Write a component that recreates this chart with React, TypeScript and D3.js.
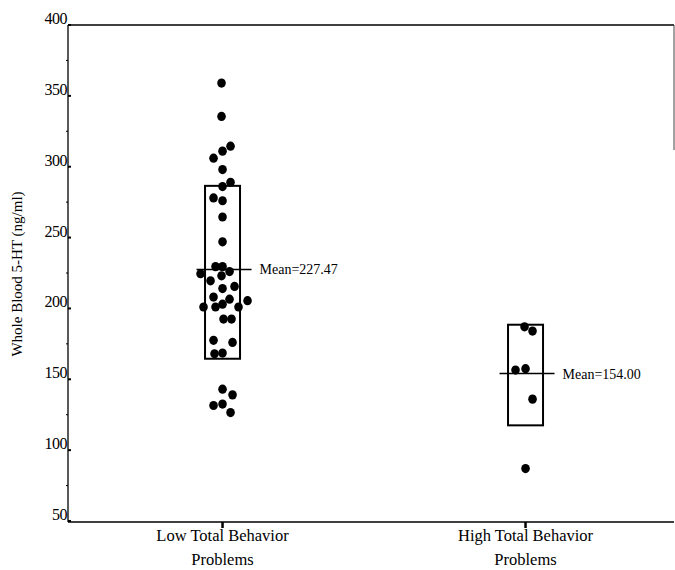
import React, { useRef, useEffect } from 'react';
import * as d3 from 'd3';

// categories (two-line tick labels)
const categories = ['Low', 'High'];
const categoryLines = [
  ['Low Total Behavior', 'Problems'],
  ['High Total Behavior', 'Problems'],
];

const yTicks = [50, 100, 150, 200, 250, 300, 350, 400];
const yMinorTicks = [75, 125, 175, 225, 275, 325, 375];

// whole blood 5-HT values, with the horizontal jitter of each dot
const lowValues = [
  359, 335.5, 314.5, 311, 306, 298, 289, 286, 278, 276, 264.5, 247,
  229.5, 229.5, 224.5, 219.5, 223, 226, 214, 215.5, 208, 201, 201, 203, 206.5, 201, 205.5, 192.5, 192.5,
  177.5, 176, 168, 168.5,
  143, 139, 131.5, 132.5, 126.5,
];
const lowJitter = [
  -1, -1, 8, 0, -9, 0, 8, 0, -9, 0, 0, 0,
  -7, 0, -22, -12, -1, 7, 0, 12, -9, -19, -7, 0, 7, 16, 25, 1, 9,
  -9, 10, -8, 0,
  0, 10, -9, 0, 8,
];

const highValues = [187, 184, 156.5, 157.5, 136, 87];
const highJitter = [-1, 7, -10, 0, 7, 0];

// box (low, high) and mean per group
const boxLow = [164.5, 117.5];
const boxHigh = [286.5, 188.5];
const means = [227.47, 154.0];

const App = () => {
  const svgRef = useRef(null);

  useEffect(() => {
    const svg = d3.select(svgRef.current);
    svg.selectAll('*').remove();

    const width = 675;
    const height = 570;
    const left = 68;
    const right = 674;
    const top = 25;
    const bottom = 521;
    const font = '"Liberation Serif", "Times New Roman", serif';

    svg.attr('width', width).attr('height', height);

    const y = d3.scaleLinear().domain([50, 400]).range([bottom, top]);
    const x = d3.scalePoint().domain(categories).range([left, right]).padding(0.5).align(0.51);

    const g = svg.append('g');

    // frame
    g.append('line').attr('x1', left).attr('x2', left).attr('y1', top).attr('y2', bottom + 1)
      .attr('stroke', '#000').attr('stroke-width', 1.3);
    g.append('line').attr('x1', left).attr('x2', right).attr('y1', top).attr('y2', top)
      .attr('stroke', '#000').attr('stroke-width', 1.3);
    g.append('line').attr('x1', left).attr('x2', right).attr('y1', bottom + 1).attr('y2', bottom + 1)
      .attr('stroke', '#000').attr('stroke-width', 1.3);
    g.append('line').attr('x1', right).attr('x2', right).attr('y1', top).attr('y2', 150)
      .attr('stroke', '#444').attr('stroke-width', 1);

    // y ticks
    g.selectAll('.ytick').data(yTicks).enter().append('line')
      .attr('x1', left).attr('x2', left + 3)
      .attr('y1', d => y(d)).attr('y2', d => y(d))
      .attr('stroke', '#000').attr('stroke-width', 2);
    g.selectAll('.yminor').data(yMinorTicks).enter().append('line')
      .attr('x1', left - 2).attr('x2', left)
      .attr('y1', d => y(d)).attr('y2', d => y(d))
      .attr('stroke', '#000').attr('stroke-width', 1);
    g.selectAll('.ylabel').data(yTicks).enter().append('text')
      .attr('x', left - 1)
      .attr('y', d => y(d) - 1)
      .attr('text-anchor', 'end')
      .style('font-family', font)
      .style('font-size', '16px')
      .style('letter-spacing', '-0.5px')
      .text(d => d);

    // y title
    g.append('text')
      .attr('transform', `translate(22,${(top + bottom) / 2 + 1}) rotate(-90)`)
      .attr('text-anchor', 'middle')
      .style('font-family', font)
      .style('font-size', '15px')
      .text('Whole Blood 5-HT (ng/ml)');

    // x ticks and labels
    categories.forEach((c, i) => {
      const cx = x(c);
      g.append('line').attr('x1', cx).attr('x2', cx).attr('y1', bottom + 1).attr('y2', bottom + 7)
        .attr('stroke', '#000').attr('stroke-width', 2.5);
      categoryLines[i].forEach((line, j) => {
        g.append('text')
          .attr('x', cx)
          .attr('y', 541 + j * 24)
          .attr('text-anchor', 'middle')
          .style('font-family', font)
          .style('font-size', '16.5px')
          .text(line);
      });
    });

    // groups
    const groups = [
      { values: lowValues, jitter: lowJitter },
      { values: highValues, jitter: highJitter },
    ];

    groups.forEach((grp, i) => {
      const cx = x(categories[i]);
      const boxHalf = 17.5;

      g.append('rect')
        .attr('x', cx - boxHalf)
        .attr('y', y(boxHigh[i]))
        .attr('width', boxHalf * 2)
        .attr('height', y(boxLow[i]) - y(boxHigh[i]))
        .attr('fill', 'none')
        .attr('stroke', '#000')
        .attr('stroke-width', 2);

      g.append('line')
        .attr('x1', cx - 26).attr('x2', cx + 29)
        .attr('y1', y(means[i])).attr('y2', y(means[i]))
        .attr('stroke', '#000').attr('stroke-width', 1.5);

      g.append('text')
        .attr('x', cx + 37)
        .attr('y', y(means[i]) + 5)
        .style('font-family', font)
        .style('font-size', '14px')
        .text(`Mean=${means[i].toFixed(2)}`);

      g.selectAll(`.dot-${i}`)
        .data(grp.values)
        .enter().append('ellipse')
        .attr('cx', (d, k) => cx + grp.jitter[k])
        .attr('cy', d => y(d))
        .attr('rx', 4.3)
        .attr('ry', 4.6)
        .attr('fill', '#000');
    });
  }, []);

  return (
    <svg
      ref={svgRef}
      style={{ position: 'absolute', left: 0, top: 0, background: '#fff' }}
    />
  );
};

export default App;
